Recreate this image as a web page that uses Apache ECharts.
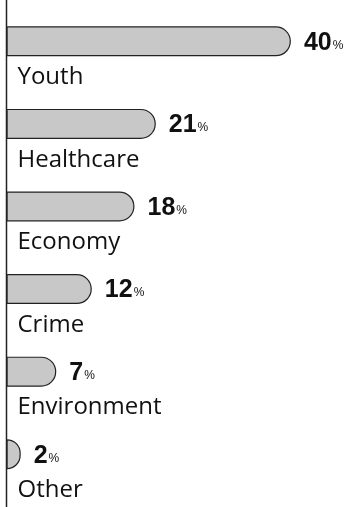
<!DOCTYPE html>
<html><head><meta charset="utf-8">
<script src="https://cdn.jsdelivr.net/npm/echarts@6/dist/echarts.min.js"></script>
<style>html,body{margin:0;padding:0;background:#fff}#c{width:362px;height:507px}</style>
</head><body><div id="c"></div>
<script>
const categories = ['Youth', 'Healthcare', 'Economy', 'Crime', 'Environment', 'Other'];
const values = [40, 21, 18, 12, 7, 2];

const chart = echarts.init(document.getElementById('c'), null, {renderer: 'canvas'});
chart.setOption({
  backgroundColor: '#ffffff',
  animation: false,
  grid: {left: 6.5, right: 0, top: -2.5, bottom: 11.5, containLabel: false},
  xAxis: {type: 'value', min: 0, max: 50, show: false},
  yAxis: {
    type: 'category', data: categories, inverse: true,
    axisLine: {show: false}, axisTick: {show: false}, splitLine: {show: false},
    axisLabel: {
      inside: true, margin: 11, interval: 0, hideOverlap: false,
      formatter: v => '{s| }\n{t|' + v + '}',
      rich: {
        s: {lineHeight: 72, fontSize: 10},
        t: {fontFamily: 'Open Sans, sans-serif', fontSize: 24, lineHeight: 30, color: '#111'}
      }
    }
  },
  series: [{
    type: 'bar', data: values, barWidth: 30,
    itemStyle: {color: '#c8c8c8', borderColor: '#222', borderWidth: 1.2, borderRadius: [0, 15, 15, 0]},
    label: {
      show: true, position: 'right', distance: 13,
      formatter: p => '{n|' + p.value + '}{p|%}',
      rich: {
        n: {fontFamily: 'Liberation Sans, Arial, sans-serif', fontWeight: 'bold', fontSize: 25, color: '#111', lineHeight: 28, verticalAlign: 'bottom'},
        p: {fontFamily: 'Liberation Sans, Arial, sans-serif', fontSize: 12, color: '#111', lineHeight: 28, verticalAlign: 'bottom', padding: [0, 0, 4, 1]}
      }
    }
  }],
  graphic: [{
    type: 'line', silent: true,
    shape: {x1: 6.5, y1: 0, x2: 6.5, y2: 507},
    style: {stroke: '#222', lineWidth: 1.5}
  }]
});
</script></body></html>
